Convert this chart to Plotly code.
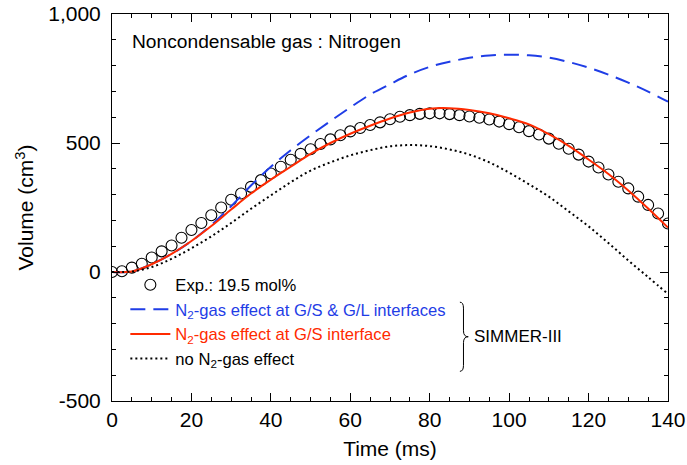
import plotly.graph_objects as go

# ---------------- data ----------------
time_exp = [0, 2.5, 5, 7.5, 10, 12.5, 15, 17.5, 20, 22.5, 25, 27.5, 30, 32.5, 35, 37.5,
            40, 42.5, 45, 47.5, 50, 52.5, 55, 57.5, 60, 62.5, 65, 67.5, 70, 72.5, 75, 77.5,
            80, 82.5, 85, 87.5, 90, 92.5, 95, 97.5, 100, 102.5, 105, 107.5, 110, 112.5,
            115, 117.5, 120, 122.5, 125, 127.5, 130, 132.5, 135, 137.5, 140]
vol_exp = [0, 3, 17, 32, 56, 80, 103, 133, 163, 190, 220, 250, 280, 304, 330, 356,
           382, 408, 435, 458, 476, 496, 514, 530, 545, 558, 570, 580, 592, 602, 608, 613,
           615, 615, 612, 608, 603, 598, 591, 583, 573, 561, 546, 533, 517, 497,
           478, 455, 428, 405, 378, 350, 324, 292, 260, 227, 188]

time_sim = [0, 5, 10, 15, 20, 25, 30, 35, 40, 45, 50, 55, 60, 65, 70, 75, 80, 85, 90,
            95, 100, 105, 110, 115, 120, 125, 130, 135, 140]
vol_gs_gl = [0, 2, 30, 70, 120, 182, 255, 335, 408, 472, 530, 585, 638, 688, 728, 766,
             795, 815, 830, 839, 842, 840, 831, 814, 792, 765, 734, 699, 660]
vol_gs = [0, 2, 30, 70, 120, 178, 242, 304, 358, 408, 458, 500, 536, 567, 595, 618,
          633, 635, 628, 615, 596, 572, 534, 489, 436, 380, 316, 246, 172]
vol_none = [0, 2, 19, 51, 92, 138, 190, 245, 297, 348, 393, 425, 452, 472, 487, 492,
            488, 475, 455, 425, 385, 340, 292, 235, 177, 112, 45, -20, -85]

x_ticks = [0, 20, 40, 60, 80, 100, 120, 140]
y_ticks = [-500, 0, 500, 1000]
y_ticktext = ["-500", "0", "500", "1,000"]

BLUE = "#1f3de6"
RED = "#ff2a00"
FONT = "Liberation Sans, Arial, sans-serif"

fig = go.Figure()
fig.add_trace(go.Scatter(
    x=time_exp, y=vol_exp, mode="markers", name="Exp.: 19.5 mol%", legendgroup="a",
    marker=dict(symbol="circle-open", size=11, color="black", line=dict(width=1.1, color="black"))))
fig.add_trace(go.Scatter(
    x=time_sim, y=vol_gs_gl, mode="lines", line_shape="spline", legendgroup="b",
    name='<span style="color:%s">N<sub>2</sub>-gas effect at G/S &amp; G/L interfaces</span>' % BLUE,
    line=dict(color=BLUE, width=2, dash="15px,8px")))
fig.add_trace(go.Scatter(
    x=time_sim, y=vol_gs, mode="lines", line_shape="spline", legendgroup="c",
    name='<span style="color:%s">N<sub>2</sub>-gas effect at G/S interface</span>' % RED,
    line=dict(color=RED, width=2)))
fig.add_trace(go.Scatter(
    x=time_sim, y=vol_none, mode="lines", line_shape="spline", legendgroup="d",
    name="no N<sub>2</sub>-gas effect",
    line=dict(color="black", width=2, dash="2px,3px")))

axis_common = dict(
    showgrid=False, zeroline=False, showline=True, linecolor="black", linewidth=1,
    mirror="allticks", ticks="inside", ticklen=8, tickwidth=1, tickcolor="black",
    tickfont=dict(size=21, family=FONT, color="black"), automargin=False,
)

fig.update_xaxes(range=[0, 140], tickvals=x_ticks, **axis_common,
                 minor=dict(ticks="inside", ticklen=4, dtick=5, tickcolor="black", tickwidth=1),
                 title=dict(text="Time (ms)", font=dict(size=21, family=FONT), standoff=11))
fig.update_yaxes(range=[-500, 1000], tickvals=y_ticks, ticktext=y_ticktext, **axis_common,
                 minor=dict(ticks="inside", ticklen=4, dtick=100, tickcolor="black", tickwidth=1),
                 ticklabelstandoff=6,
                 title=dict(text="Volume (cm<sup>3</sup>)", font=dict(size=21, family=FONT), standoff=8))

fig.add_annotation(text="Noncondensable gas : Nitrogen", xref="paper", yref="paper",
                   x=0.032, y=0.928, xanchor="left", yanchor="middle", showarrow=False,
                   font=dict(size=19.2, family=FONT, color="black"))
fig.add_annotation(text="SIMMER-III", xref="x", yref="y", x=90.6, y=-251,
                   xanchor="left", yanchor="middle", showarrow=False,
                   font=dict(size=17, family=FONT, color="black"))
fig.add_shape(type="path", xref="x", yref="y",
              path="M 87.6,-117 Q 88.5,-117 88.5,-140 L 88.5,-228 Q 88.5,-251 89.7,-251 "
                   "Q 88.5,-251 88.5,-274 L 88.5,-362 Q 88.5,-385 87.6,-385",
              line=dict(color="black", width=1))

fig.update_layout(
    width=687, height=465,
    margin=dict(l=112, r=19, t=14, b=64),
    plot_bgcolor="white", paper_bgcolor="white",
    font=dict(family=FONT, size=20, color="black"),
    showlegend=True,
    legend=dict(x=0.024, y=0.345, xanchor="left", yanchor="top",
                bgcolor="rgba(0,0,0,0)", borderwidth=0,
                font=dict(size=16.6, family=FONT, color="black"),
                tracegroupgap=0, itemwidth=40),
)

fig.write_html("out.html")
